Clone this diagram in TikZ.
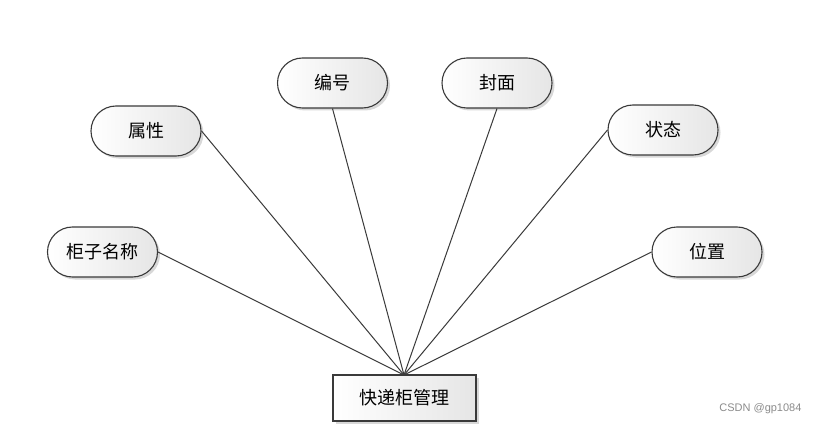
\documentclass[tikz,border=0pt]{standalone}
\usepackage{fontspec}
\newfontfamily\cjk{Noto Sans CJK SC}
\setsansfont{Liberation Sans}
\usetikzlibrary{shapes.misc,shadows}
\definecolor{edgec}{HTML}{3A3A3A}
\tikzset{
  attr/.style={rounded rectangle, draw=edgec, line width=1.1pt,
    minimum width=110pt, minimum height=50pt, inner sep=0pt,
    left color=white, right color=black!10,
    drop shadow={shadow xshift=2.5pt, shadow yshift=-2.5pt, fill=black!30, opacity=0.5},
    font=\cjk\fontsize{18}{21}\selectfont},
  entity/.style={rectangle, draw=edgec, line width=1.1pt,
    minimum width=143pt, minimum height=46pt, inner sep=0pt,
    left color=white, right color=black!10,
    drop shadow={shadow xshift=2.5pt, shadow yshift=-2.5pt, fill=black!30, opacity=0.5},
    font=\cjk\fontsize{18}{21}\selectfont},
  link/.style={draw=edgec, line width=1pt}
}
\begin{document}
\begin{tikzpicture}[x=1pt,y=-1pt]
\useasboundingbox[fill=white] (0,0) rectangle (819,425);
\node[entity] (m) at (404.5,398) {快递柜管理};
\coordinate (c) at (404,375);
\node[attr] (a1) at (102.5,252) {柜子名称};
\node[attr] (a2) at (146,131) {属性};
\node[attr] (a3) at (332.5,83) {编号};
\node[attr] (a4) at (497,83) {封面};
\node[attr] (a5) at (663,130) {状态};
\node[attr] (a6) at (707,252) {位置};
\draw[link] (a1.east) -- (c);
\draw[link] (a2.east) -- (c);
\draw[link] (a3.south) -- (c);
\draw[link] (a4.south) -- (c);
\draw[link] (a5.west) -- (c);
\draw[link] (a6.west) -- (c);
\node[text=black!45, font=\sffamily\fontsize{11}{13}\selectfont, anchor=east] (wm) at (805,409) {CSDN @gp1084};
\end{tikzpicture}
\end{document}
